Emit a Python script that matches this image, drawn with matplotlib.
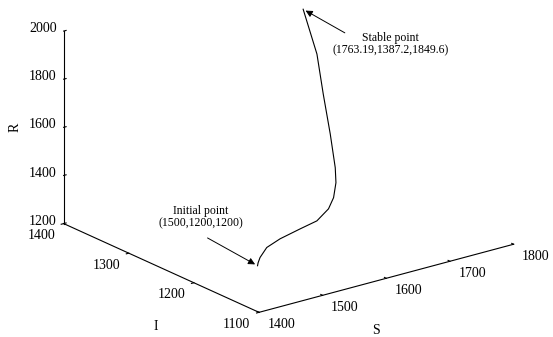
import matplotlib
matplotlib.use("Agg")
import matplotlib.pyplot as plt
from mpl_toolkits.mplot3d import proj3d

plt.rcParams['font.family'] = 'Liberation Serif'

# trajectory (S, I, R)
S_vals = [1500, 1505, 1515, 1538, 1570, 1608, 1640, 1670, 1692, 1708, 1720, 1736, 1748, 1756, 1763.19]
I_vals = [1200, 1204, 1210.8, 1223, 1233.8, 1240.1, 1245.7, 1257.2, 1270.9, 1282.9, 1295.7, 1319, 1341.5, 1359, 1387.2]
R_vals = [1200, 1204, 1210.4, 1220.6, 1220.8, 1227.5, 1231.2, 1245.8, 1260, 1296, 1334, 1434, 1564, 1703, 1849.6]

S_ticks = [1400, 1500, 1600, 1700, 1800]
I_ticks = [1100, 1200, 1300, 1400]
R_ticks = [1200, 1400, 1600, 1800, 2000]

fig = plt.figure(figsize=(5.53, 3.37), dpi=100)
ax = fig.add_axes([0.0137, 0.078, 1, 1], projection='3d')
ax.set_proj_type('ortho')
ax.view_init(elev=20.4, azim=-127.5)
ax.set_box_aspect((1, 1, 0.64), zoom=1.435)

ax.plot(S_vals, I_vals, R_vals, color='black', lw=0.8)

s0, s1 = S_ticks[0], S_ticks[-1]
i0, i1 = I_ticks[0], I_ticks[-1]
r0, r1 = R_ticks[0], R_ticks[-1]
ax.set_xlim(s0, s1)
ax.set_ylim(i0, i1)
ax.set_zlim(r0, r1)
ax.set_xticks(S_ticks)
ax.set_yticks(I_ticks)
ax.set_zticks(R_ticks)

# MATLAB look: no panes, no grid, plain black axis lines
ax.grid(False)
for axis in (ax.xaxis, ax.yaxis, ax.zaxis):
    axis.pane.set_visible(False)
    axis.line.set_color('black')
    axis.line.set_linewidth(0.8)
    axis._axinfo['tick']['color'] = 'black'
    axis._axinfo['tick']['inward_factor'] = 0.0
    axis._axinfo['tick']['outward_factor'] = 0.12
    axis.set_tick_params(labelbottom=False, width=0.6, colors='black')
ax.yaxis._axinfo['tick']['inward_factor'] = 0.12
ax.yaxis._axinfo['tick']['outward_factor'] = 0.0

M = ax.get_proj()


def text_at(s, i, r, txt, **kw):
    # put a flat 2D text at the projected 3D point
    x, y, _ = proj3d.proj_transform(s, i, r, M)
    ax.text2D(x, y, txt, **kw)


# tick labels placed like MATLAB does
for s in S_ticks:
    text_at(s, i0 - 34, r0 - 8, str(s), ha='center', va='center', fontsize=10)
for i in I_ticks:
    text_at(s0 - 35, i, r0 - 26, str(i), ha='center', va='center', fontsize=10)
for r in R_ticks:
    text_at(s0 - 7, i1 + 4, r + 10, str(r), ha='right', va='center', fontsize=10)

# axis labels
fig.text(376 / 553, 1 - 331 / 337, 'S', ha='center', va='center', fontsize=10)
fig.text(156 / 553, 1 - 326 / 337, 'I', ha='center', va='center', fontsize=10)
fig.text(15 / 553, 1 - 127 / 337, 'R', ha='center', va='center', fontsize=10, rotation=90)

# annotations at the first and last point
x0, y0, _ = proj3d.proj_transform(S_vals[0], I_vals[0], R_vals[0], M)
x1, y1, _ = proj3d.proj_transform(S_vals[-1], I_vals[-1], R_vals[-1], M)

arrow = dict(arrowstyle='-|>', color='black', lw=0.7, mutation_scale=10, shrinkA=0, shrinkB=2)
ax.annotate('', xy=(x0, y0), xytext=(-36, 20), textcoords='offset points', arrowprops=arrow)
ax.annotate('Initial point\n(1500,1200,1200)', xy=(x0, y0), xytext=(-41, 35),
            textcoords='offset points', ha='center', va='center', fontsize=8.5, linespacing=1.0)
ax.annotate('', xy=(x1, y1), xytext=(30, -17), textcoords='offset points', arrowprops=arrow)
ax.annotate('Stable point\n(1763.19,1387.2,1849.6)', xy=(x1, y1), xytext=(63, -25),
            textcoords='offset points', ha='center', va='center', fontsize=8.5, linespacing=1.0)

fig.savefig('out.png', dpi=100)
